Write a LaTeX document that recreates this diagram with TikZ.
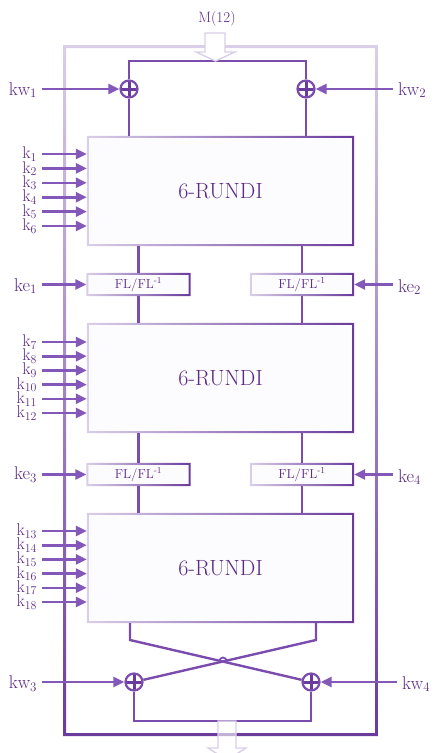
\documentclass[tikz,border=0pt]{standalone}
\usepackage{tikz}
\usetikzlibrary{arrows.meta, positioning, calc}
\definecolor{ink}{HTML}{5B2A86}
\definecolor{deep}{HTML}{6A3A9C}
\definecolor{wirec}{HTML}{7A4CAE}
\definecolor{keyc}{HTML}{8458B8}
\definecolor{lav}{HTML}{D9CFE8}
\definecolor{boxfill}{HTML}{FCFBFD}

\begin{document}
\begin{tikzpicture}[x=1pt, y=-1pt,
      rundi/.style={
                  minimum width=267pt, minimum height=110pt, inner sep=0pt,
                  fill=boxfill, text=ink, font=\fontsize{22}{24}\selectfont
            },
      flbox/.style={
                  minimum width=104pt, minimum height=23pt, inner sep=0pt,
                  fill=boxfill, text=ink, font=\fontsize{13}{14}\selectfont
            },
      xor/.style={
                  circle, draw=wirec, line width=2.2pt, minimum size=17pt, inner sep=0pt, fill=white,
                  path picture={\draw[deep, line width=3pt]
                        (path picture bounding box.north) -- (path picture bounding box.south)
                        (path picture bounding box.west) -- (path picture bounding box.east);}
            },
      klab/.style={text=ink, font=\fontsize{17}{17}\selectfont, inner sep=0pt, outer xsep=5pt, anchor=east},
      kwlab/.style={klab, font=\fontsize{18.5}{18.5}\selectfont},
      rlab/.style={text=ink, font=\fontsize{18.5}{18.5}\selectfont, inner sep=0pt, outer xsep=5pt, anchor=west},
      wire/.style={draw=wirec, line width=2.4pt},
      keyarrow/.style={draw=keyc, line width=2.6pt, -{Triangle[length=11pt, width=10pt]}},
      hollow/.style={draw=lav, line width=1.4pt, fill=white},
]
\useasboundingbox (0,0) rectangle (437,753);

% outer frame
\shade[top color=lav, bottom color=deep, even odd rule]
      (63,45) rectangle (378,736) (66,48) rectangle (375,733);

% blocks
\node[rundi] (r1) at (220.5,191) {6-RUNDI};
\node[rundi] (r2) at (220.5,378) {6-RUNDI};
\node[rundi] (r3) at (220.5,568) {6-RUNDI};
\node[flbox] (fl1) at (138.5,284.5) {FL/FL\textsuperscript{-1}};
\node[flbox] (fl2) at (302,284.5)   {FL/FL\textsuperscript{-1}};
\node[flbox] (fl3) at (138.5,474.5) {FL/FL\textsuperscript{-1}};
\node[flbox] (fl4) at (302,474.5)   {FL/FL\textsuperscript{-1}};
\foreach \b in {r1,r2,r3,fl1,fl2,fl3,fl4}
      \shade[left color=lav, right color=deep, even odd rule]
            (\b.north west) rectangle (\b.south east)
            ([shift={(2pt,-2pt)}]\b.north west) rectangle ([shift={(-2pt,2pt)}]\b.south east);

% whitening xors
\node[xor] (x1) at (129,89) {};
\node[xor] (x2) at (306,89) {};
\node[xor] (x3) at (134,682) {};
\node[xor] (x4) at (311,682) {};

% input
\node[text=ink, font=\fontsize{15}{15}\selectfont] (mlab) at (217,19) {M(12)};
\coordinate (bus) at (218,61);
\draw[wire] (x1) -- (x1 |- bus) -- (x2 |- bus) -- (x2);
\draw[hollow] (205,33) -- (225,33) -- (225,52) -- (235,52) -- (215.5,61) -- (196,52) -- (205,52) -- cycle;
\draw[wire] (x1) -- (x1 |- r1.north);
\draw[wire] (x2) -- (x2 |- r1.north);

% between rounds
\draw[wire] (fl1.north) -- (fl1.north |- r1.south);
\draw[wire] (fl2.north) -- (fl2.north |- r1.south);
\draw[wire] (fl1.south) -- (fl1.south |- r2.north);
\draw[wire] (fl2.south) -- (fl2.south |- r2.north);
\draw[wire] (fl3.north) -- (fl3.north |- r2.south);
\draw[wire] (fl4.north) -- (fl4.north |- r2.south);
\draw[wire] (fl3.south) -- (fl3.south |- r3.north);
\draw[wire] (fl4.south) -- (fl4.south |- r3.north);

% swap and output
\coordinate (cl) at (130,640);
\coordinate (cr) at (316,640);
\coordinate (hop) at (223,661);
\draw[wire] (cl |- r3.south) -- (cl) -- (x4);
\draw[wire] (cr |- r3.south) -- (cr) -- (x3);
\draw[wirec, line width=1.8pt] ([xshift=-3.5pt]hop) arc[start angle=180, end angle=0, radius=3.5pt];
\coordinate (obus) at (222,721);
\draw[wire] (x3) -- (x3 |- obus) -- (x4 |- obus) -- (x4);
\draw[hollow, fill opacity=0.6] (218,721) -- (236,721) -- (236,748) -- (246,748) -- (227,760) -- (208,748) -- (218,748) -- cycle;

% whitening keys
\node[kwlab] (kw1) at (42,90) {kw\textsubscript{1}};
\node[rlab] (kw2) at (393,90) {kw\textsubscript{2}};
\node[kwlab] (kw3) at (42,684) {kw\textsubscript{3}};
\node[rlab] (kw4) at (397,684) {kw\textsubscript{4}};
\draw[keyarrow] (kw1.east |- x1) -- (x1);
\draw[keyarrow] (kw2.west |- x2) -- (x2);
\draw[keyarrow] (kw3.east |- x3) -- (x3);
\draw[keyarrow] (kw4.west |- x4) -- (x4);

% FL keys
\node[kwlab] (ke1) at (42,286) {ke\textsubscript{1}};
\node[rlab] (ke2) at (393,287) {ke\textsubscript{2}};
\node[kwlab] (ke3) at (42,475) {ke\textsubscript{3}};
\node[rlab] (ke4) at (393,477) {ke\textsubscript{4}};
\draw[keyarrow] (ke1.east |- fl1) -- (fl1.west);
\draw[keyarrow] (ke2.west |- fl2) -- (fl2.east);
\draw[keyarrow] (ke3.east |- fl3) -- (fl3.west);
\draw[keyarrow] (ke4.west |- fl4) -- (fl4.east);

% round keys
\foreach \i in {1,...,6} {
      \pgfmathsetmacro\yy{154+14.4*(\i-1)}
      \node[klab] (k\i) at (42,\yy) {k\textsubscript{\i}};
      \draw[keyarrow] (k\i.east) -- (k\i.east -| r1.west);
}
\foreach \i in {7,...,12} {
      \pgfmathsetmacro\yy{342+14.2*(\i-7)}
      \node[klab] (k\i) at (42,\yy) {k\textsubscript{\i}};
      \draw[keyarrow] (k\i.east) -- (k\i.east -| r2.west);
}
\foreach \i in {13,...,18} {
      \pgfmathsetmacro\yy{531+14.2*(\i-13)}
      \node[klab] (k\i) at (42,\yy) {k\textsubscript{\i}};
      \draw[keyarrow] (k\i.east) -- (k\i.east -| r3.west);
}
\end{tikzpicture}
\end{document}
